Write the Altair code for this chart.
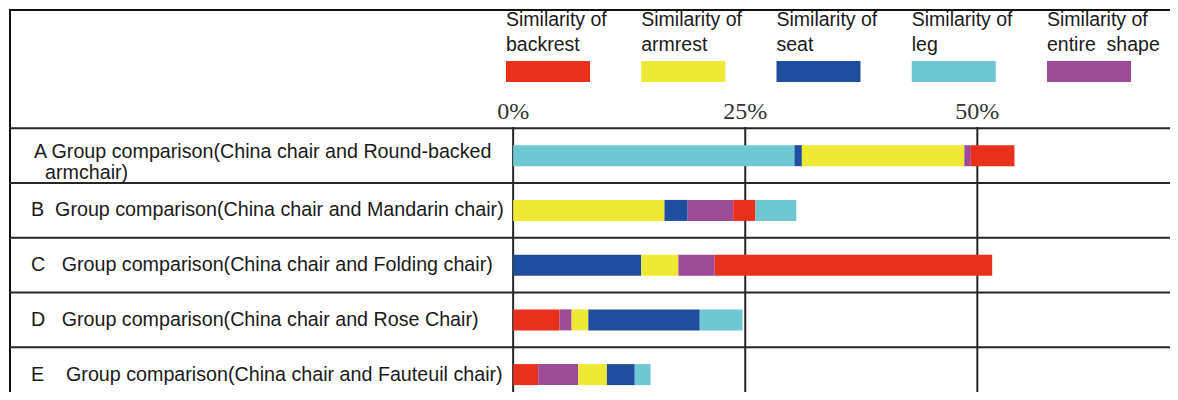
import altair as alt
import pandas as pd

# ---------------- data ----------------
categories = ["backrest", "armrest", "seat", "leg", "entire shape"]
legend_labels = [
    "Similarity of\nbackrest",
    "Similarity of\narmrest",
    "Similarity of\nseat",
    "Similarity of\nleg",
    "Similarity of\nentire\u00a0\u00a0shape",
]
colors = ["#E8301A", "#EDE935", "#1F4E9E", "#6EC8D3", "#9C4C96"]

rows = ["A", "B", "C", "D", "E"]
row_labels = [
    "A Group comparison(China chair and Round-backed\narmchair)",
    "B\u00a0\u00a0Group comparison(China chair and Mandarin chair)",
    "C\u00a0\u00a0\u00a0Group comparison(China chair and Folding chair)",
    "D\u00a0\u00a0\u00a0Group comparison(China chair and Rose Chair)",
    "E\u00a0\u00a0\u00a0\u00a0Group comparison(China chair and Fauteuil chair)",
]

order_A = ["leg", "seat", "armrest", "entire shape", "backrest"]
values_A = [30.3, 0.8, 17.5, 0.7, 4.7]
order_B = ["armrest", "seat", "entire shape", "backrest", "leg"]
values_B = [16.3, 2.5, 4.9, 2.4, 4.4]
order_C = ["seat", "armrest", "entire shape", "backrest"]
values_C = [13.8, 4.0, 3.9, 29.9]
order_D = ["backrest", "entire shape", "armrest", "seat", "leg"]
values_D = [5.0, 1.3, 1.8, 12.0, 4.6]
order_E = ["backrest", "entire shape", "armrest", "seat", "leg"]
values_E = [2.7, 4.3, 3.1, 3.0, 1.7]

tick_values = [0, 25, 50]
tick_labels = ["0%", "25%", "50%"]

# ---------------- tables ----------------
orders = [order_A, order_B, order_C, order_D, order_E]
values = [values_A, values_B, values_C, values_D, values_E]
seg_records = []
for i, (ords, vals) in enumerate(zip(orders, values)):
    start = 0.0
    for c, v in zip(ords, vals):
        seg_records.append({"row": rows[i], "pos": i, "cat": c, "start": start, "end": start + v})
        start += v
seg = pd.DataFrame(seg_records)

label_records = []
for i, lbl in enumerate(row_labels):
    parts = lbl.split("\n")
    for j, p in enumerate(parts):
        label_records.append({"pos": i, "line": j, "nlines": len(parts), "label": p})
labels_df = pd.DataFrame(label_records)

lines_df = pd.DataFrame({"pos": [i - 0.5 for i in range(len(rows))]})
ticks_df = pd.DataFrame({"tick": tick_values, "label": tick_labels})
legend_df = pd.DataFrame({"cat": categories, "label": legend_labels})

# ---------------- layout ----------------
W, H = 1162, 384
X0, PX = 505.0, 9.3
STEP = 56.5
ROW0 = 118 + STEP / 2
xs = alt.Scale(domain=[-X0 / PX, (W - X0) / PX], nice=False, zero=False)
ys = alt.Scale(domain=[-ROW0 / STEP, (H - ROW0) / STEP], nice=False, zero=False, reverse=True)
cs = alt.Scale(domain=categories, range=colors)
ls = alt.Scale(type="band", domain=categories, range=[497, 1122], paddingInner=0.379, paddingOuter=0)
FONT = "Liberation Sans, Arial, sans-serif"
INK = "#262626"

bars = alt.Chart(seg).mark_bar(size=21).encode(
    x=alt.X("start:Q", scale=xs, axis=None),
    x2="end:Q",
    y=alt.Y("pos:Q", scale=ys, axis=None),
    color=alt.Color("cat:N", scale=cs, legend=None),
)

hlines = alt.Chart(lines_df).mark_rule(color=INK, strokeWidth=2).encode(
    y=alt.Y("pos:Q", scale=ys, axis=None),
    x=alt.value(0),
    x2=alt.value(W),
)

vlines = alt.Chart(ticks_df).mark_rule(color=INK, strokeWidth=2).encode(
    x=alt.X("tick:Q", scale=xs, axis=None),
    y=alt.value(ROW0 - STEP / 2),
    y2=alt.value(H),
)

tick_text = alt.Chart(ticks_df).mark_text(
    font="Liberation Serif, Times New Roman, serif", fontSize=24, baseline="alphabetic",
    align="center", color="#333333",
).encode(
    x=alt.X("tick:Q", scale=xs, axis=None),
    y=alt.value(110),
    text="label:N",
)

row_style = dict(font=FONT, fontSize=19.7, align="left", baseline="middle", color="#1a1a1a")
row_enc = dict(
    x=alt.value(22),
    y=alt.Y("pos:Q", scale=ys, axis=None),
    text="label:N",
)
row_single = alt.Chart(labels_df).transform_filter("datum.nlines == 1").mark_text(
    **row_style).encode(**row_enc)
row_multi_first = alt.Chart(labels_df).transform_filter(
    "datum.nlines > 1 && datum.line == 0").mark_text(dx=3, dy=-4, **row_style).encode(**row_enc)
row_multi_second = alt.Chart(labels_df).transform_filter(
    "datum.nlines > 1 && datum.line == 1").mark_text(dx=14, dy=17, **row_style).encode(**row_enc)

swatches = alt.Chart(legend_df).mark_rect().encode(
    x=alt.X("cat:N", scale=ls, axis=None),
    y=alt.value(52),
    y2=alt.value(73),
    color=alt.Color("cat:N", scale=cs, legend=None),
)

legend_text = alt.Chart(legend_df).mark_text(
    font=FONT, fontSize=19.5, align="left", baseline="alphabetic", lineBreak="\n",
    lineHeight=25, color="#1a1a1a",
).encode(
    x=alt.X("cat:N", scale=ls, axis=None, bandPosition=0),
    y=alt.value(17),
    text="label:N",
)

frame_top = alt.Chart(ticks_df).mark_rule(color="#111111", strokeWidth=2).encode(
    x=alt.value(0), x2=alt.value(W), y=alt.value(1)
)
frame_left = alt.Chart(ticks_df).mark_rule(color="#111111", strokeWidth=2).encode(
    x=alt.value(1), y=alt.value(0), y2=alt.value(H)
)

chart = (
    alt.layer(frame_top, frame_left, hlines, vlines, bars, tick_text,
              row_single, row_multi_first, row_multi_second, swatches, legend_text)
    .resolve_scale(x="independent")
    .properties(
        width=W, height=H, padding=0, background="white",
        autosize=alt.AutoSizeParams(type="fit", contains="padding"),
    )
    .configure_view(stroke=None)
)

chart.save("out.html", embed_options={"renderer": "svg", "actions": False})
